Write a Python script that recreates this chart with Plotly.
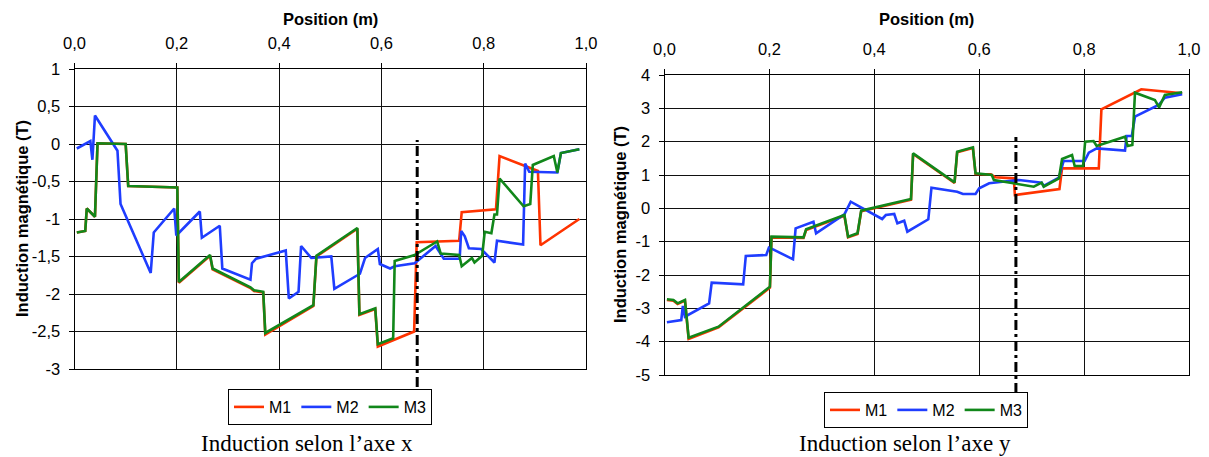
import plotly.graph_objects as go

W, H = 1209, 457

# ---------------- Data: left chart (axe x) ----------------
lx_m1 = [0.0045, 0.021, 0.024, 0.040, 0.045, 0.100, 0.105, 0.201, 0.204, 0.265, 0.270, 0.344, 0.351, 0.369, 0.373,
         0.467, 0.473, 0.553, 0.557, 0.588, 0.593, 0.664, 0.669, 0.752, 0.757, 0.824, 0.831, 0.906, 0.911, 0.987]
ly_m1 = [-1.18, -1.16, -0.86, -0.97, 0.01, 0.00, -0.56, -0.58, -1.85, -1.49, -1.67, -1.92, -1.96, -1.98, -2.54,
         -2.16, -1.50, -1.13, -2.28, -2.20, -2.70, -2.50, -1.31, -1.29, -0.91, -0.87, -0.16, -0.36, -1.35, -1.00]

lx_m2 = [0.0045, 0.031, 0.035, 0.040, 0.084, 0.090, 0.149, 0.155, 0.195, 0.199, 0.245, 0.249, 0.284, 0.289, 0.344,
         0.347, 0.355, 0.413, 0.419, 0.438, 0.443, 0.463, 0.502, 0.508, 0.558, 0.568, 0.593, 0.597, 0.617, 0.626,
         0.665, 0.706, 0.722, 0.753, 0.756, 0.763, 0.771, 0.795, 0.821, 0.826, 0.877, 0.881, 0.889, 0.938, 0.944,
         0.951, 0.987]
ly_m2 = [-0.06, 0.04, -0.21, 0.38, -0.09, -0.80, -1.72, -1.18, -0.86, -1.22, -0.90, -1.25, -1.09, -1.66, -1.81,
         -1.59, -1.53, -1.42, -2.06, -1.97, -1.36, -1.52, -1.50, -1.93, -1.73, -1.52, -1.40, -1.60, -1.66, -1.63,
         -1.59, -1.36, -1.53, -1.53, -1.16, -1.23, -1.39, -1.40, -1.58, -1.29, -1.34, -0.26, -0.37, -0.38, -0.38,
         -0.12, -0.07]

lx_m3 = [0.0045, 0.021, 0.024, 0.040, 0.045, 0.100, 0.105, 0.201, 0.204, 0.265, 0.270, 0.344, 0.351, 0.369, 0.373,
         0.467, 0.473, 0.553, 0.557, 0.588, 0.593, 0.623, 0.626, 0.665, 0.704, 0.709, 0.716, 0.752, 0.757, 0.777,
         0.782, 0.797, 0.802, 0.815, 0.821, 0.826, 0.831, 0.878, 0.891, 0.896, 0.937, 0.944, 0.951, 0.987]
ly_m3 = [-1.18, -1.16, -0.86, -0.97, 0.01, 0.00, -0.56, -0.58, -1.84, -1.48, -1.66, -1.91, -1.95, -1.97, -2.52,
         -2.15, -1.49, -1.12, -2.27, -2.19, -2.67, -2.59, -1.56, -1.48, -1.32, -1.30, -1.46, -1.48, -1.63, -1.52,
         -1.58, -1.49, -1.17, -1.19, -0.94, -0.94, -0.46, -0.83, -0.80, -0.28, -0.16, -0.38, -0.12, -0.07]

# ---------------- Data: right chart (axe y) ----------------
rx_m1 = [0.0046, 0.017, 0.025, 0.039, 0.046, 0.103, 0.201, 0.204, 0.265, 0.270, 0.343, 0.350, 0.368, 0.375, 0.470,
         0.474, 0.553, 0.558, 0.588, 0.593, 0.622, 0.631, 0.666, 0.668, 0.753, 0.758, 0.828, 0.833, 0.909, 0.987]
ry_m1 = [-2.75, -2.77, -2.87, -2.77, -3.92, -3.57, -2.38, -0.87, -0.89, -0.65, -0.22, -0.87, -0.77, -0.09, 0.26,
         1.63, 0.76, 1.68, 1.81, 1.03, 1.02, 0.93, 0.90, 0.40, 0.58, 1.20, 1.20, 2.97, 3.57, 3.45]

rx_m2 = [0.0046, 0.032, 0.035, 0.039, 0.085, 0.090, 0.150, 0.155, 0.194, 0.199, 0.207, 0.245, 0.250, 0.284, 0.289,
         0.343, 0.355, 0.415, 0.422, 0.438, 0.444, 0.457, 0.463, 0.503, 0.509, 0.558, 0.569, 0.593, 0.600, 0.619,
         0.644, 0.676, 0.719, 0.723, 0.752, 0.761, 0.801, 0.809, 0.824, 0.878, 0.881, 0.891, 0.897, 0.942, 0.954,
         0.987]
ry_m2 = [-3.42, -3.35, -2.93, -3.25, -2.85, -2.23, -2.28, -1.43, -1.40, -1.18, -1.23, -1.53, -0.60, -0.40, -0.75,
         -0.18, 0.20, -0.32, -0.20, -0.17, -0.45, -0.37, -0.70, -0.33, 0.62, 0.50, 0.43, 0.43, 0.60, 0.75,
         0.80, 0.85, 0.77, 0.67, 0.92, 1.42, 1.42, 1.67, 1.80, 1.73, 2.17, 2.17, 2.75, 3.10, 3.32, 3.42]

rx_m3 = [0.0046, 0.017, 0.025, 0.039, 0.046, 0.103, 0.201, 0.204, 0.265, 0.270, 0.343, 0.350, 0.368, 0.375, 0.470,
         0.474, 0.553, 0.558, 0.588, 0.593, 0.624, 0.628, 0.704, 0.719, 0.723, 0.752, 0.758, 0.777, 0.782, 0.798,
         0.802, 0.818, 0.824, 0.878, 0.883, 0.892, 0.897, 0.935, 0.943, 0.954, 0.987]
ry_m3 = [-2.73, -2.75, -2.85, -2.75, -3.88, -3.55, -2.35, -0.85, -0.87, -0.63, -0.20, -0.85, -0.75, -0.07, 0.28,
         1.65, 0.78, 1.70, 1.83, 1.05, 1.00, 0.85, 0.65, 0.77, 0.65, 0.90, 1.48, 1.60, 1.27, 1.27,
         2.00, 2.02, 1.87, 2.15, 1.87, 1.90, 3.47, 3.25, 3.03, 3.40, 3.48]

series_names = ["M1", "M2", "M3"]
series_colors = ["#FF3300", "#1F3DFF", "#11871A"]

x_tickvals = [0.0, 0.2, 0.4, 0.6, 0.8, 1.0]
x_ticktext = ["0,0", "0,2", "0,4", "0,6", "0,8", "1,0"]
ly_tickvals = [1, 0.5, 0, -0.5, -1, -1.5, -2, -2.5, -3]
ly_ticktext = ["1", "0,5", "0", "-0,5", "-1", "-1,5", "-2", "-2,5", "-3"]
ry_tickvals = [4, 3, 2, 1, 0, -1, -2, -3, -4, -5]
ry_ticktext = ["4", "3", "2", "1", "0", "-1", "-2", "-3", "-4", "-5"]

limit_position = 0.67  # dash-dot marker position (m)

x_title = "Position (m)"
y_title = "Induction magnétique (T)"
captions = ["Induction selon l’axe x", "Induction selon l’axe y"]

# ---------------- Figure ----------------
fig = go.Figure()
left = [(lx_m1, ly_m1), (lx_m2, ly_m2), (lx_m3, ly_m3)]
right = [(rx_m1, ry_m1), (rx_m2, ry_m2), (rx_m3, ry_m3)]
for (xs, ys), name, col in zip(left, series_names, series_colors):
    fig.add_trace(go.Scatter(x=xs, y=ys, mode="lines", name=name, line=dict(color=col, width=2.6),
                             xaxis="x", yaxis="y", legend="legend"))
for (xs, ys), name, col in zip(right, series_names, series_colors):
    fig.add_trace(go.Scatter(x=xs, y=ys, mode="lines", name=name, line=dict(color=col, width=2.6),
                             xaxis="x2", yaxis="y2", legend="legend2"))

FONT = "Liberation Sans, Arial, sans-serif"
tickfont = dict(family=FONT, size=16.5, color="black")

def px_x(p):
    return p / W

def px_y(p):
    return 1 - p / H

L = dict(x0=74.5, x1=586, y0=69, y1=369)
R = dict(x0=664.5, x1=1189, y0=75, y1=375)

common_x = dict(range=[0, 1], side="top", tickvals=x_tickvals, ticktext=x_ticktext, tickfont=tickfont,
                showgrid=True, gridcolor="#111", gridwidth=1, showline=True, linecolor="black", linewidth=1,
                mirror=True, ticks="outside", ticklen=5, tickcolor="black", zeroline=False,
                ticklabelstandoff=7, automargin=False)
common_y = dict(tickfont=tickfont, showgrid=True, gridcolor="#111", gridwidth=1, showline=True,
                linecolor="black", linewidth=1, mirror=True, ticks="outside", ticklen=5, tickcolor="black",
                zeroline=False, ticklabelstandoff=5, automargin=False)

legend_common = dict(orientation="h", xanchor="center", yanchor="top",
                     bordercolor="black", borderwidth=1, font=dict(size=16, family=FONT),
                     itemwidth=30, tracegroupgap=0, bgcolor="white")

fig.update_layout(
    width=W, height=H, margin=dict(l=0, r=0, t=0, b=0, autoexpand=False),
    paper_bgcolor="white", plot_bgcolor="white",
    font=dict(family=FONT, color="black"),
    xaxis=dict(domain=[px_x(L["x0"]), px_x(L["x1"])], anchor="y", **common_x),
    yaxis=dict(domain=[px_y(L["y1"]), px_y(L["y0"])], anchor="x", range=[-3, 1],
               tickvals=ly_tickvals, ticktext=ly_ticktext, **common_y),
    xaxis2=dict(domain=[px_x(R["x0"]), px_x(R["x1"])], anchor="y2", **common_x),
    yaxis2=dict(domain=[px_y(R["y1"]), px_y(R["y0"])], anchor="x2", range=[-5, 4],
                tickvals=ry_tickvals, ticktext=ry_ticktext, **common_y),
    legend=dict(x=px_x(330), y=px_y(389), **legend_common),
    legend2=dict(x=px_x(926), y=px_y(392), **legend_common),
    showlegend=True,
)

# dash-dot limit lines (extend a bit below the plot area, as in the original)
for xr, yr, ytop in [("x", "y", 0.763), ("x2", "y2", 0.793)]:
    fig.add_shape(type="line", xref=f"{xr} domain", yref=f"{yr} domain",
                  x0=limit_position, x1=limit_position, y0=-0.06, y1=ytop,
                  line=dict(color="black", width=3, dash="10px,4px,3px,4px"), layer="above")

# axis titles and captions
annots = []
for cx in [(L["x0"] + L["x1"]) / 2, (R["x0"] + R["x1"]) / 2]:
    annots.append(dict(text=f"<b>{x_title}</b>", x=px_x(cx), y=px_y(19), xref="paper", yref="paper",
                       showarrow=False, xanchor="center", yanchor="middle",
                       font=dict(size=16.5, family=FONT, color="black")))
for tx, (y0, y1) in [(22, (L["y0"], L["y1"])), (620, (R["y0"], R["y1"]))]:
    annots.append(dict(text=f"<b>{y_title}</b>", x=px_x(tx), y=px_y((y0 + y1) / 2), xref="paper",
                       yref="paper", showarrow=False, textangle=-90, xanchor="center", yanchor="middle",
                       font=dict(size=16.5, family=FONT, color="black")))
for cap, cx in zip(captions, [307, 905]):
    annots.append(dict(text=cap, x=px_x(cx), y=px_y(443), xref="paper", yref="paper", showarrow=False,
                       xanchor="center", yanchor="middle",
                       font=dict(size=23, family="Liberation Serif, Times New Roman, serif", color="black")))
fig.update_layout(annotations=annots)

fig.write_html("out.html")
